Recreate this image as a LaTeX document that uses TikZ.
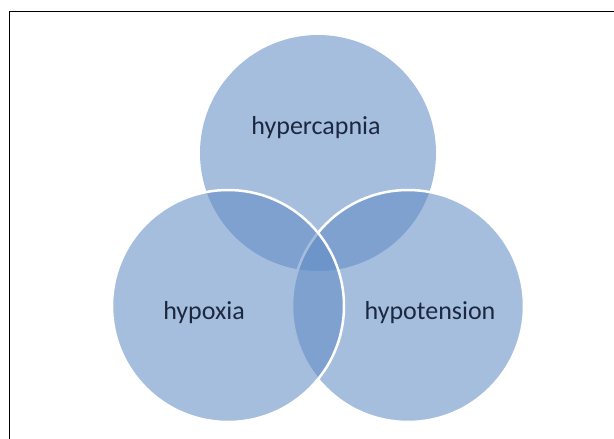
\documentclass[tikz,border=0pt]{standalone}
\usepackage{fontspec}
\setmainfont{Carlito}
\definecolor{venn}{RGB}{96,139,196}
\definecolor{txt}{RGB}{28,40,64}
\begin{document}
\begin{tikzpicture}[x=1pt,y=-1pt,
  venncircle/.style={circle, inner sep=0pt, outer sep=0pt, minimum size=#1, fill=venn, fill opacity=0.56},
  rim/.style={draw=white, line width=2.5pt, draw opacity=1},
  lbl/.style={text=txt, font=\fontsize{26}{30}\selectfont, inner sep=0pt},
  frameline/.style={draw=black, line width=1pt}]
\useasboundingbox (0,0) rectangle (614,439);
\node[venncircle=236pt] (top) at (318,153) {};
\node[venncircle=232pt, rim] (right) at (408,306) {};
\node[venncircle=232pt, rim] (left) at (228,306) {};
\node[lbl] (hc) at (316,128) {hypercapnia};
\node[lbl] (hx) at (204,313) {hypoxia};
\node[lbl] (ht) at (430,313) {hypotension};
\coordinate (fbl) at (9,439);
\coordinate (ftl) at (9,11);
\coordinate (ftr) at (614,11);
\draw[frameline] (fbl) -- (ftl) -- (ftr);
\end{tikzpicture}
\end{document}
